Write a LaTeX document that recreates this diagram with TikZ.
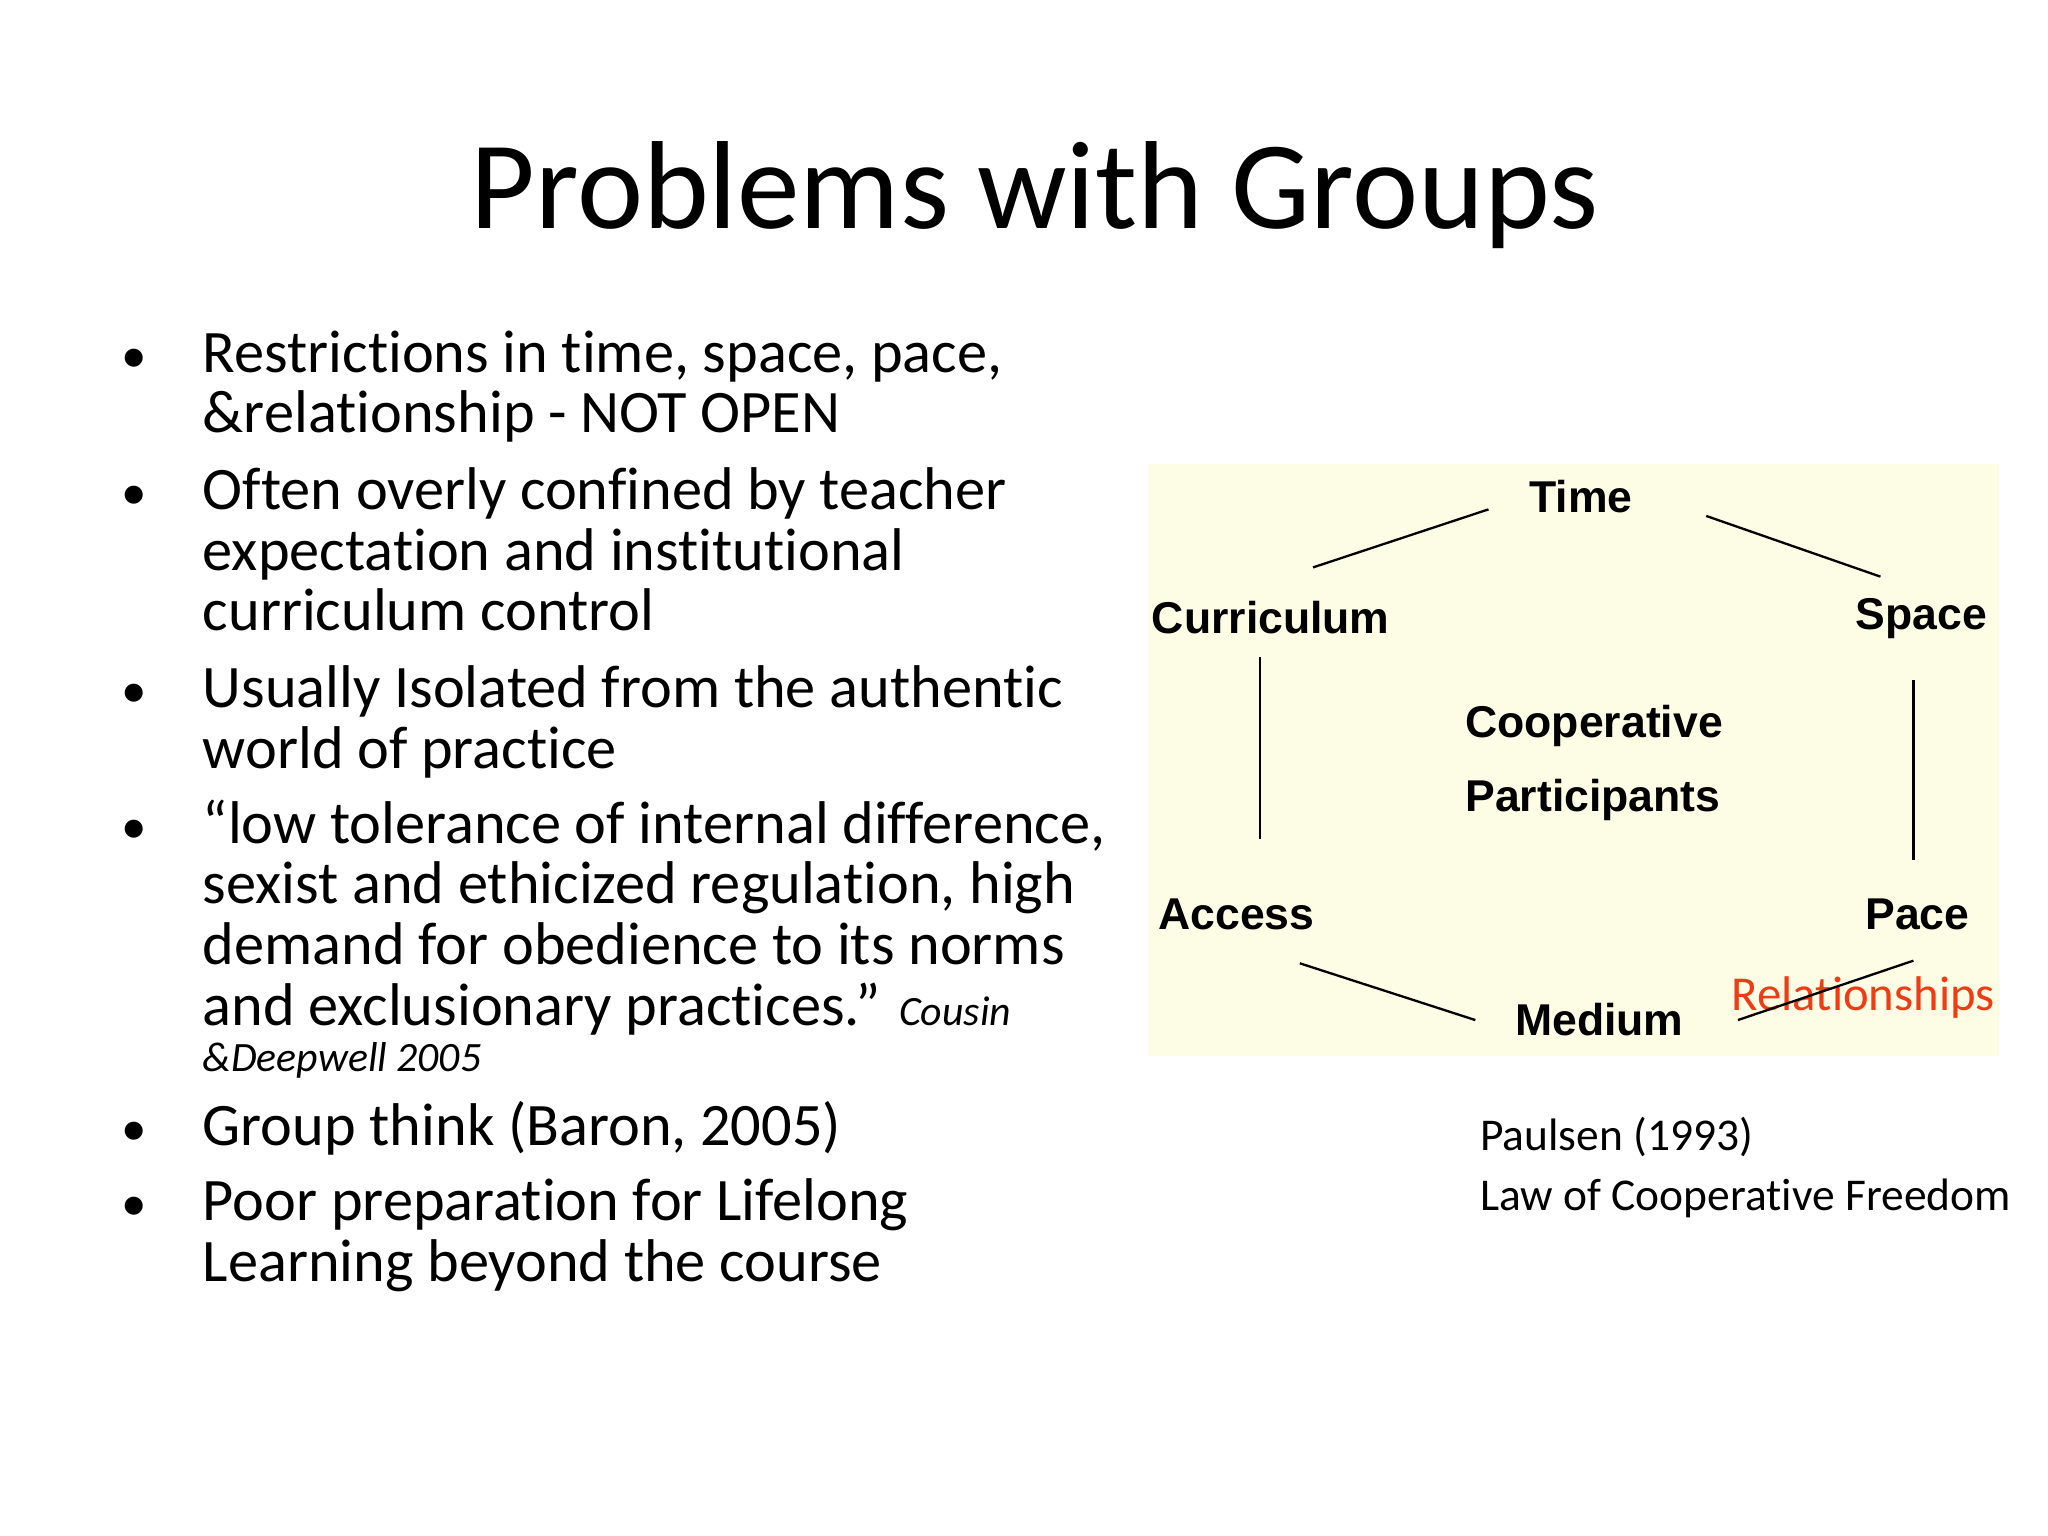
\documentclass[tikz,border=0pt]{standalone}
\usepackage{fontspec}
\setmainfont{Carlito}[Ligatures={NoCommon}]
\newfontfamily\diafont{Liberation Sans}
\definecolor{beige}{HTML}{FDFDE6}
\definecolor{relred}{HTML}{F03C14}
\begin{document}
\begin{tikzpicture}[x=0.01cm,y=-0.01cm,
  body/.style={anchor=base west,inner sep=0pt,font=\fontsize{13}{14}\selectfont},
  bul/.style={anchor=base,inner sep=0pt,font=\fontsize{11}{14}\selectfont},
  lab/.style={inner sep=0pt,font=\diafont\fontsize{9.6}{12}\selectfont\bfseries},
  conn/.style={line width=0.5pt}]
\useasboundingbox (0,0) rectangle (1552,1164);
\node[inner sep=0pt,font=\fontsize{27}{30}\selectfont] (title) at (784,148) {Problems with Groups};
% bullets
\foreach \y/\n in {282/b1,386/b2,536/b3,639/b4,868/b5,925/b6}
  \node[bul] (\n) at (102,\y) {•};
\node[body] (l1) at (153,282) {Restrictions in time, space, pace,};
\node[body] (l2) at (153,328) {\&relationship - NOT OPEN};
\node[body] (l3) at (153,386) {Often overly confined by teacher};
\node[body] (l4) at (153,432) {expectation and institutional};
\node[body] (l5) at (153,478) {curriculum control};
\node[body] (l6) at (153,536) {Usually Isolated from the authentic};
\node[body] (l7) at (153,582) {world of practice};
\node[body] (l8) at (153,639) {“low tolerance of internal difference,};
\node[body] (l9) at (153,685) {sexist and ethicized regulation, high};
\node[body] (l10) at (153,731) {demand for obedience to its norms};
\node[body] (l11) at (153,777) {and exclusionary practices.” {\itshape\fontsize{9}{10}\selectfont Cousin}};
\node[body,font=\itshape\fontsize{9}{10}\selectfont] (l12) at (153,812) {\&Deepwell 2005};
\node[body] (l13) at (153,868) {Group think (Baron, 2005)};
\node[body] (l14) at (153,925) {Poor preparation for Lifelong};
\node[body] (l15) at (153,971) {Learning beyond the course};
% diagram
\fill[beige] (870,352) rectangle (1515,800);
\node[lab] (time) at (1198,376) {Time};
\node[lab] (curr) at (963,468) {Curriculum};
\node[lab] (space) at (1456,469) {Space};
\node[lab,align=left] (coop) at (1208,578) {Cooperative\\[4pt]Participants};
\node[lab] (access) at (937,693) {Access};
\node[lab] (pace) at (1453,693) {Pace};
\node[lab] (medium) at (1212,773) {Medium};
\node[inner sep=0pt,text=relred,font=\fontsize{10.5}{12}\selectfont] (rel) at (1412,756) {Relationships};
\coordinate (a1) at (995,430); \coordinate (a2) at (1128,386);
\coordinate (b1) at (1293,391); \coordinate (b2) at (1425,437);
\coordinate (c1) at (955,498); \coordinate (c2) at (955,636);
\coordinate (d1) at (1450,515); \coordinate (d2) at (1450,652);
\coordinate (e1) at (985,730); \coordinate (e2) at (1118,773);
\coordinate (f1) at (1317,773); \coordinate (f2) at (1450,728);
\draw[conn] (a1) -- (a2); \draw[conn] (b1) -- (b2);
\draw[conn] (c1) -- (c2); \draw[conn] (d1) -- (d2);
\draw[conn] (e1) -- (e2); \draw[conn] (f1) -- (f2);
\node[anchor=west,inner sep=0pt,align=left,font=\fontsize{9.8}{13}\selectfont] (paul) at (1121,885) {Paulsen (1993)\\Law of Cooperative Freedom};
\end{tikzpicture}
\end{document}
